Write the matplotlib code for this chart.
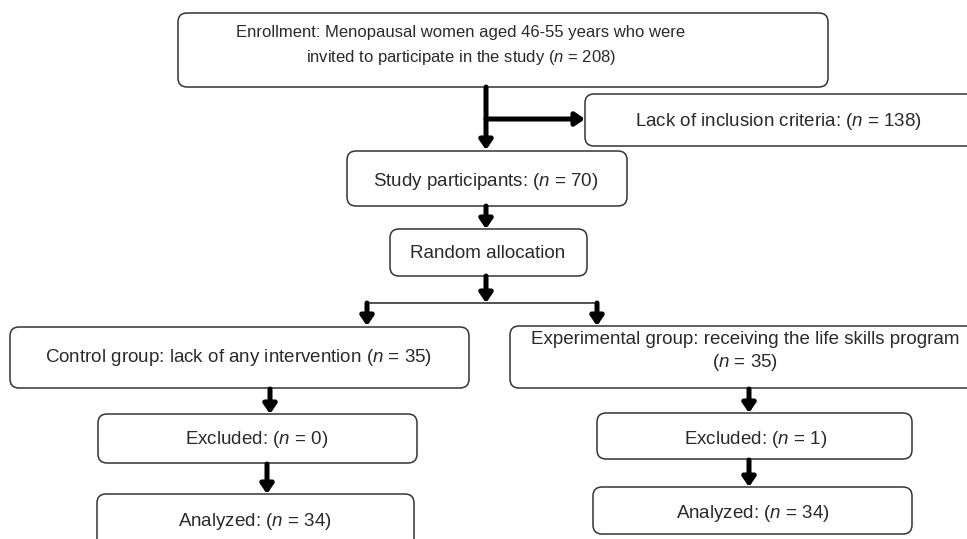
import matplotlib
matplotlib.use("Agg")
import matplotlib.pyplot as plt
from matplotlib.patches import FancyBboxPatch

plt.rcParams['font.family'] = ['Liberation Sans', 'DejaVu Sans']
plt.rcParams['mathtext.fontset'] = 'custom'
plt.rcParams['mathtext.rm'] = 'Liberation Sans'
plt.rcParams['mathtext.it'] = 'Liberation Sans:italic'

# box texts (n values)
n_enrolled = 208
n_lack = 138
n_participants = 70
n_control = 35
n_experimental = 35
n_excluded = [0, 1]
n_analyzed = [34, 34]

N = r'($\mathit{n}$ = %d)'
labels = {
    'enroll': 'Enrollment: Menopausal women aged 46-55 years who were\ninvited to participate in the study ' + N % n_enrolled,
    'lack': 'Lack of inclusion criteria: ' + N % n_lack,
    'study': 'Study participants: ' + N % n_participants,
    'random': 'Random allocation',
    'control': 'Control group: lack of any intervention ' + N % n_control,
    'exper': 'Experimental group: receiving the life skills program\n' + N % n_experimental,
    'excl_c': 'Excluded: ' + N % n_excluded[0],
    'anal_c': 'Analyzed: ' + N % n_analyzed[0],
    'excl_e': 'Excluded: ' + N % n_excluded[1],
    'anal_e': 'Analyzed: ' + N % n_analyzed[1],
}

# layout in pixels: box (x0, y0, x1, y1), text centre (x, y), font size, line spacing
boxes = {
    'enroll': ((178, 13, 828, 87), (461, 46), 12, 1.6),
    'lack': ((585, 94, 985, 146), (778, 121), 13.5, 1.2),
    'study': ((347, 151, 627, 206), (486, 181), 13.5, 1.2),
    'random': ((390, 229, 587, 276), (488, 254), 13.5, 1.2),
    'control': ((10, 327, 469, 388), (239, 358), 13.5, 1.2),
    'exper': ((510, 326, 990, 388), (745, 352), 13.5, 1.25),
    'excl_c': ((98, 414, 417, 463), (257, 440), 13.5, 1.2),
    'anal_c': ((97, 494, 414, 560), (255, 521), 13.5, 1.2),
    'excl_e': ((597, 413, 912, 459), (756, 439), 13.5, 1.2),
    'anal_e': ((593, 487, 912, 534), (753, 513), 13.5, 1.2),
}

arrows = [
    ((486, 87), (486, 150)),
    ((486, 119), (585, 119)),
    ((486, 206), (486, 229)),
    ((486, 276), (486, 303)),
    ((367, 303), (367, 326)),
    ((597, 303), (597, 326)),
    ((270, 389), (270, 414)),
    ((267, 464), (267, 494)),
    ((749, 389), (749, 413)),
    ((749, 460), (749, 487)),
]

fig = plt.figure(figsize=(9.67, 5.39), dpi=100)
ax = fig.add_axes([0, 0, 1, 1])
ax.set_xlim(0, 967)
ax.set_ylim(539, 0)
ax.axis('off')

for key, ((x0, y0, x1, y1), (tx, ty), fs, ls) in boxes.items():
    ax.add_patch(FancyBboxPatch((x0, y0), x1 - x0, y1 - y0,
                                boxstyle='round,pad=0,rounding_size=9',
                                fc='white', ec='#333333', lw=1.1))
    ax.text(tx, ty, labels[key], ha='center', va='center', fontsize=fs,
            color='#2a2a2a', linespacing=ls, multialignment='center')

# thin connector between the two arms
ax.plot([367, 597], [303, 303], color='#222222', lw=1.1, solid_capstyle='butt')

for start, end in arrows:
    ax.annotate('', xy=end, xytext=start,
                arrowprops=dict(arrowstyle='-|>,head_length=0.55,head_width=0.38',
                                lw=3.6, color='black', shrinkA=0, shrinkB=0,
                                mutation_scale=10))

fig.savefig('out.png', dpi=100)
